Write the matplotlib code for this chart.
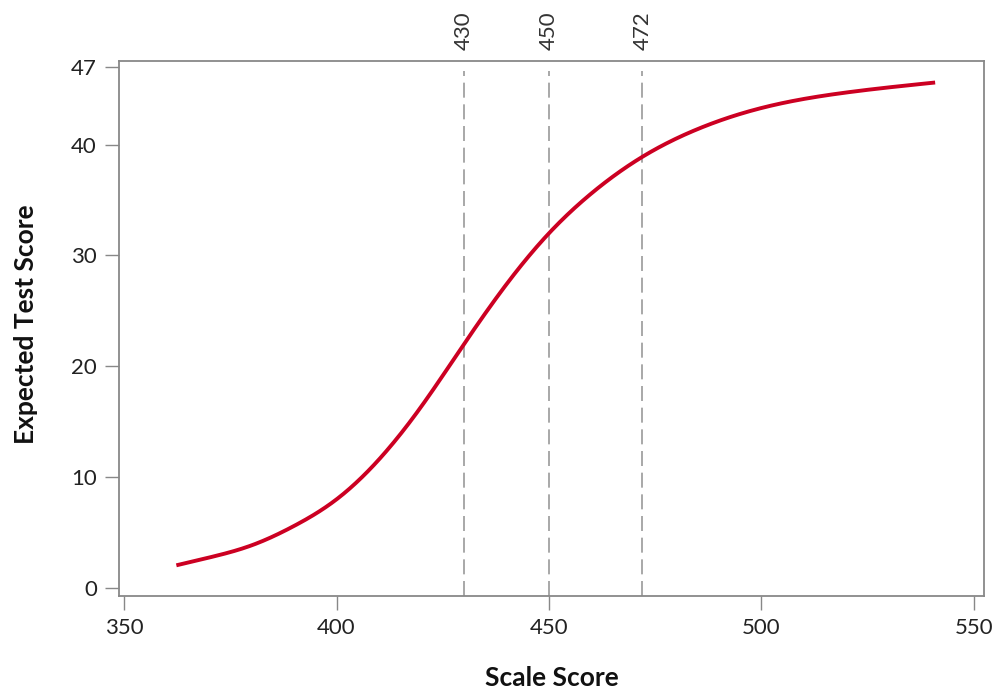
import matplotlib
matplotlib.use("Agg")
import matplotlib.pyplot as plt
import numpy as np

plt.rcParams['font.family'] = ['Lato', 'DejaVu Sans']

# Data
scale_score = [362.3, 370, 380, 390, 400, 410, 420, 430, 440, 450,
               460, 472, 485, 500, 520, 540.9]
expected_score = [2.05, 2.75, 3.85, 5.6, 8.0, 11.6, 16.4, 22.0, 27.4, 32.0,
                  35.6, 38.9, 41.4, 43.3, 44.7, 45.6]
cut_scores = [430, 450, 472]
x_ticks = [350, 400, 450, 500, 550]
y_ticks = [0, 10, 20, 30, 40, 47]


def natural_spline(x, y, xn):
    x = np.asarray(x, float)
    y = np.asarray(y, float)
    n = len(x)
    h = np.diff(x)
    A = np.zeros((n, n))
    b = np.zeros(n)
    A[0, 0] = 1
    A[-1, -1] = 1
    for i in range(1, n - 1):
        A[i, i - 1] = h[i - 1]
        A[i, i] = 2 * (h[i - 1] + h[i])
        A[i, i + 1] = h[i]
        b[i] = 3 * ((y[i + 1] - y[i]) / h[i] - (y[i] - y[i - 1]) / h[i - 1])
    c = np.linalg.solve(A, b)
    bb = (y[1:] - y[:-1]) / h - h * (2 * c[:-1] + c[1:]) / 3
    d = (c[1:] - c[:-1]) / (3 * h)
    k = np.clip(np.searchsorted(x, xn) - 1, 0, n - 2)
    t = xn - x[k]
    return y[k] + bb[k] * t + c[k] * t ** 2 + d[k] * t ** 3


fig = plt.figure(figsize=(10, 6.98), dpi=100)
ax = fig.add_axes([0.119, 0.1461, 0.865, 0.7665])

xn = np.linspace(scale_score[0], scale_score[-1], 500)
yn = natural_spline(scale_score, expected_score, xn)

ax.set_xlim(348.8, 552.4)
ax.set_ylim(-0.72, 47.54)

for c in cut_scores:
    ax.vlines(c, -0.72, 46.6, colors='#9a9a9a', linestyles=(0, (9, 4)),
              linewidth=1.2, zorder=1)
    ax.annotate(str(c), xy=(c, 1.0), xycoords=ax.get_xaxis_transform(),
                xytext=(0, 8), textcoords='offset points', rotation=90,
                ha='center', va='bottom', fontsize=16, color='#333333')

ax.plot(xn, yn, color='#cc0022', linewidth=2.8, solid_capstyle='butt', zorder=3)

ax.set_xticks(x_ticks)
ax.set_yticks(y_ticks)
ax.tick_params(axis='both', direction='out', length=10, width=1.0, color='#888888',
               labelsize=16, labelcolor='#222222', pad=6)
for s in ax.spines.values():
    s.set_color('#888888')
    s.set_linewidth(1.3)

ax.set_xlabel('Scale Score', fontsize=19, fontweight='bold', color='#111111', labelpad=20)
fig.text(0.026, 0.535, 'Expected Test Score', rotation=90, ha='center', va='center',
         fontsize=19, fontweight='bold', color='#111111')

fig.savefig('out.png', dpi=100)
